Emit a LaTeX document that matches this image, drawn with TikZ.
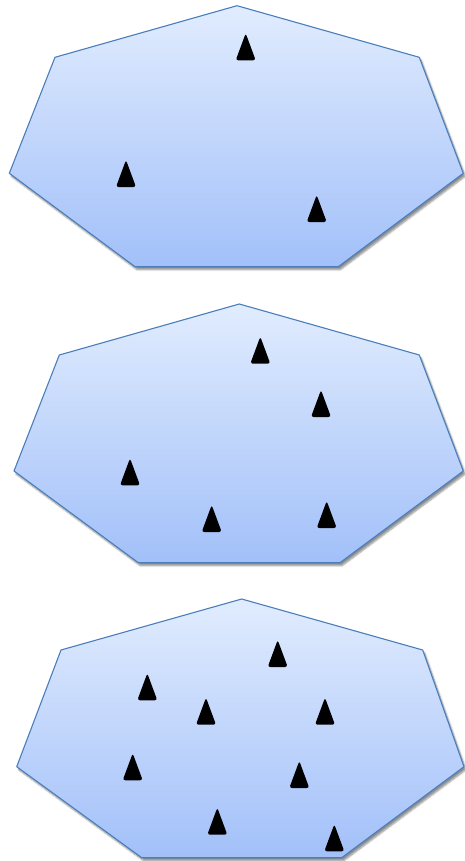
\documentclass[tikz,border=0pt]{standalone}
\usetikzlibrary{shadows.blur}
\definecolor{hepttop}{HTML}{E1ECFE}
\definecolor{heptbot}{HTML}{A2C0F9}
\definecolor{heptline}{HTML}{4A7EBB}
\tikzset{
  heptagon/.style={draw=heptline, line width=1.1pt, line join=round,
    top color=hepttop, bottom color=heptbot,
    blur shadow={shadow xshift=2pt, shadow yshift=-3pt, shadow opacity=45, shadow blur steps=6}},
  marker/.pic={
    \fill[black, rounded corners=2.6pt] (0,0) -- (10,27) -- (-10,27) -- cycle;
  }
}
\begin{document}
\begin{tikzpicture}[x=1pt, y=-1pt]
\useasboundingbox (0,0) rectangle (464,861);

% first region: three markers
\path[heptagon] (237,5.7) -- (419.3,57.3) -- (463.3,173.3) -- (338.3,266.7)
  -- (135,266.7) -- (9.3,173.3) -- (55,57.3) -- cycle;
\pic at (245.7,33.3) {marker};
\pic at (126,160) {marker};
\pic at (316.7,195) {marker};

% second region: five markers
\path[heptagon] (239.3,304) -- (419.3,355) -- (463.3,471) -- (340,562.7)
  -- (138.3,562.7) -- (14,471) -- (59.3,355) -- cycle;
\pic at (260.3,336.7) {marker};
\pic at (321,390) {marker};
\pic at (130,458.3) {marker};
\pic at (211.7,505) {marker};
\pic at (326.7,501) {marker};

% third region: eight markers
\path[heptagon] (241.7,599) -- (422.7,650) -- (464,766.7) -- (341.7,857.7)
  -- (141.7,857.7) -- (16.7,766.7) -- (61,650) -- cycle;
\pic at (277.7,640) {marker};
\pic at (147.3,673.3) {marker};
\pic at (206,697.7) {marker};
\pic at (325,697.7) {marker};
\pic at (132.7,753.3) {marker};
\pic at (299.3,761) {marker};
\pic at (217.3,807.7) {marker};
\pic at (334.3,824.3) {marker};
\end{tikzpicture}
\end{document}
